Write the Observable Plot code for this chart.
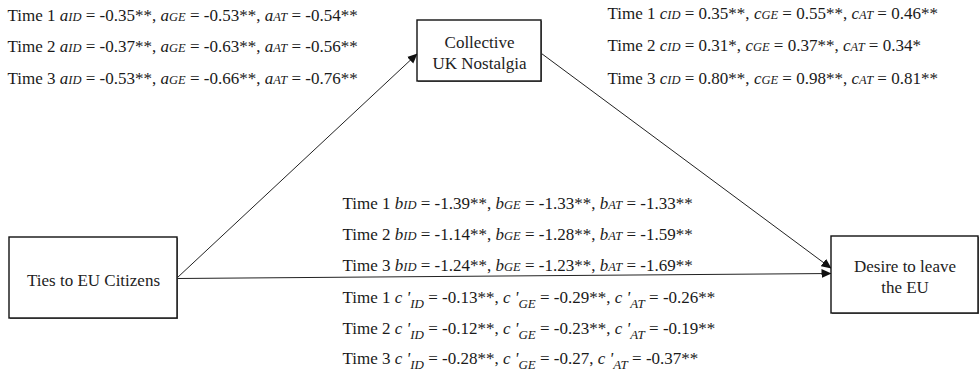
<!DOCTYPE html>
<html><head><meta charset="utf-8">
<script src="https://cdn.jsdelivr.net/npm/d3@7"></script>
<script src="https://cdn.jsdelivr.net/npm/@observablehq/plot@0.6"></script>
<style>
body{margin:0;background:#fff}
#chart svg text, #chart svg tspan { font-family: "Liberation Serif", "Times New Roman", serif !important; }
</style>
</head><body><div id="chart"></div>
<script>
// ---- data ----
const times = ["Time 1", "Time 2", "Time 3"];
const groups = ["ID", "GE", "AT"];
const nodeNames = ["Ties to EU Citizens", "Collective\nUK Nostalgia", "Desire to leave\nthe EU"];
// a path: Ties -> Nostalgia
const aValues = [[-0.35, -0.53, -0.54], [-0.37, -0.63, -0.56], [-0.53, -0.66, -0.76]];
const aStars  = [["**", "**", "**"], ["**", "**", "**"], ["**", "**", "**"]];
// c path: Nostalgia -> Desire (as labelled in the figure)
const cValues = [[0.35, 0.55, 0.46], [0.31, 0.37, 0.34], [0.80, 0.98, 0.81]];
const cStars  = [["**", "**", "**"], ["*", "**", "*"], ["**", "**", "**"]];
// b path
const bValues = [[-1.39, -1.33, -1.33], [-1.14, -1.28, -1.59], [-1.24, -1.23, -1.69]];
const bStars  = [["**", "**", "**"], ["**", "**", "**"], ["**", "**", "**"]];
// c' path
const cpValues = [[-0.13, -0.29, -0.26], [-0.12, -0.23, -0.19], [-0.28, -0.27, -0.37]];
const cpStars  = [["**", "**", "**"], ["**", "**", "**"], ["**", "", "**"]];

// ---- layout (pixel positions, kept apart from the data) ----
const boxPos = [
  {x1: 9, x2: 177, y1: 237, y2: 318},
  {x1: 417, x2: 541, y1: 20, y2: 81},
  {x1: 831, x2: 978, y1: 236, y2: 313}
];
const arrowPos = [
  {x1: 177, y1: 277, x2: 417, y2: 53},
  {x1: 541, y1: 53, x2: 831, y2: 268},
  {x1: 177, y1: 278, x2: 831, y2: 273}
];
const labelPos = {
  a:  {x: 7,   y: [20, 51, 83]},
  c:  {x: 607, y: [18, 50, 83]},
  b:  {x: 342, y: [208, 239, 270]},
  cp: {x: 342, y: [302, 333, 363]}
};

const fmt = v => v.toFixed(2);
function lineText(time, letter, vals, stars, low) {
  return time + " " + groups.map((g, j) =>
    `{${letter}|${g}${low ? "|low" : ""}} = ${fmt(vals[j])}${stars[j]}`).join(", ");
}
const labels = [];
[["a", "a", aValues, aStars, false], ["c", "c", cValues, cStars, false],
 ["b", "b", bValues, bStars, false], ["cp", "c '", cpValues, cpStars, true]]
  .forEach(([key, letter, vals, stars, low]) => {
    times.forEach((t, i) => labels.push({
      text: lineText(t, letter, vals[i], stars[i], low),
      x: labelPos[key].x, y: labelPos[key].y[i]
    }));
  });

const boxes = nodeNames.map((name, i) => ({name, ...boxPos[i]}));

const font = "Liberation Serif";
const plot = Plot.plot({
  width: 979, height: 383,
  margin: 0,
  x: {domain: [0, 979], range: [0, 979], axis: null},
  y: {domain: [0, 383], range: [0, 383], axis: null},
  marks: [
    Plot.link(arrowPos, {x1: "x1", y1: "y1", x2: "x2", y2: "y2", stroke: "#222", strokeWidth: 1}),
    Plot.rect(boxes, {x1: "x1", x2: "x2", y1: "y1", y2: "y2", fill: "#777", dx: 1, dy: 1}),
    Plot.rect(boxes, {x1: "x1", x2: "x2", y1: "y1", y2: "y2", fill: "#fff", stroke: "#111", strokeWidth: 1.4}),
    Plot.text(boxes, {x: d => (d.x1 + d.x2) / 2, y: d => (d.y1 + d.y2) / 2 + 1, text: "name",
      fontSize: 17, lineHeight: 1.2, fill: "#222", fontFamily: font}),
    Plot.text(labels, {x: "x", y: "y", text: "text", textAnchor: "start", lineAnchor: "bottom",
      fontSize: 17, fill: "#1a1a1a", fontFamily: font})
  ]
});
document.getElementById("chart").appendChild(plot);

const svgNode = plot.tagName.toLowerCase() === "svg" ? plot : plot.querySelector("svg");
const svg = d3.select(svgNode);
const defs = svg.insert("defs", ":first-child");
defs.append("marker").attr("id", "ahead")
  .attr("viewBox", "0 -5 10 10").attr("refX", 10).attr("refY", 0)
  .attr("markerWidth", 10).attr("markerHeight", 10)
  .attr("markerUnits", "userSpaceOnUse").attr("orient", "auto")
  .append("path").attr("d", "M0,-4.5L10,0L0,4.5Z").attr("fill", "#111");
const linkG = svgNode.querySelectorAll("g")[0];
d3.select(linkG).selectAll("path, line").attr("marker-end", "url(#ahead)");

svgNode.querySelectorAll("text").forEach(node => {
  const s = node.textContent;
  if (!s.includes("{")) return;
  const el = d3.select(node);
  while (node.firstChild) node.removeChild(node.firstChild);
  const re = /\{([^|}]+)\|([^|}]+)(\|low)?\}/g;
  let last = 0, m, pendingDy = 0;
  const add = (str, italic) => {
    const t = el.append("tspan").text(str);
    if (italic) t.attr("font-style", "italic");
    if (pendingDy) { t.attr("dy", pendingDy); pendingDy = 0; }
    return t;
  };
  while ((m = re.exec(s))) {
    if (m.index > last) add(s.slice(last, m.index), false);
    add(m[1], true);
    const sub = add(m[2], true);
    if (m[3]) { sub.attr("font-size", 13).attr("dy", 5); pendingDy = -5; }
    else sub.attr("font-size", 12.5);
    last = re.lastIndex;
  }
  if (last < s.length) add(s.slice(last), false);
});
</script>
</body></html>
